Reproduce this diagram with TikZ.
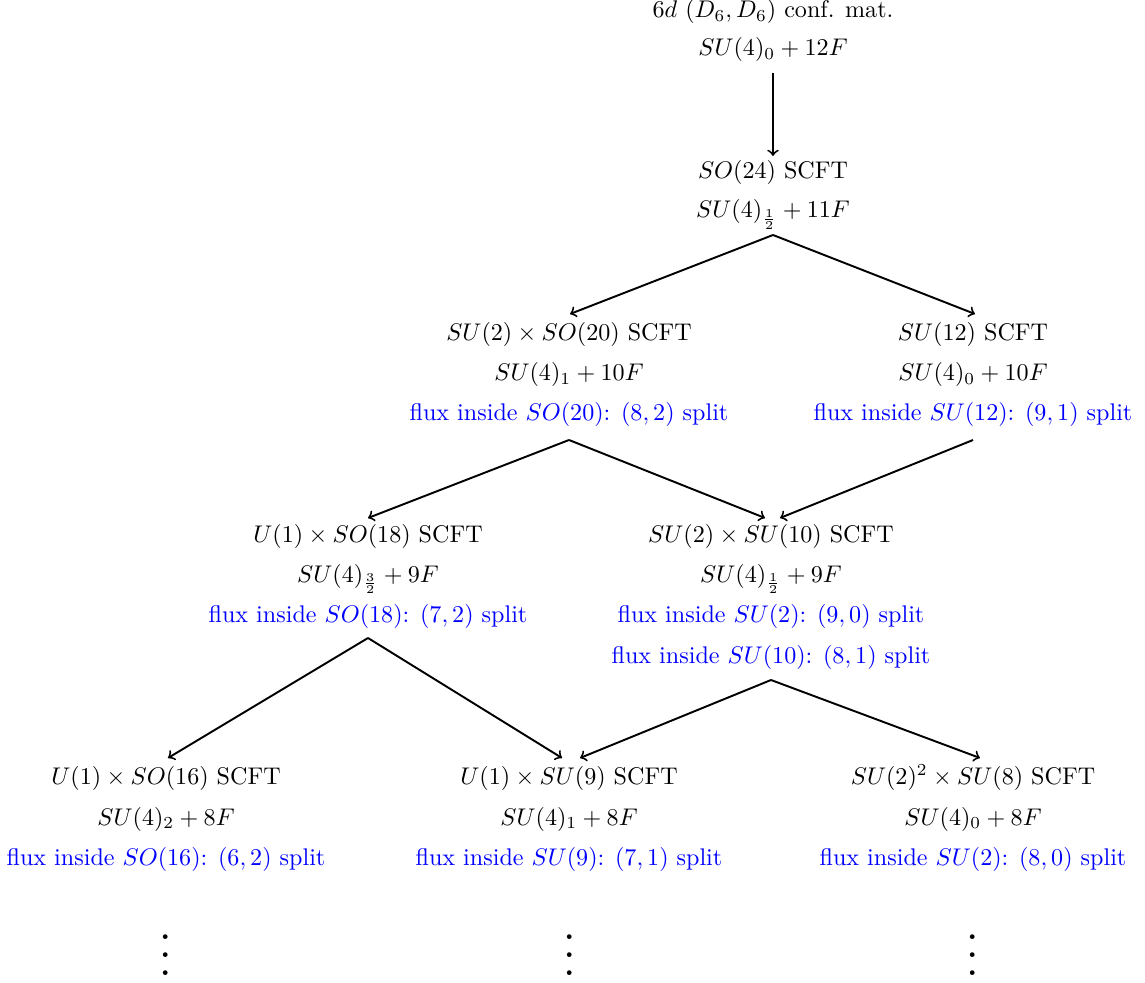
\documentclass[tikz,border=0pt]{standalone}
\usetikzlibrary{calc}
\tikzset{
  lbl/.style={anchor=base, inner sep=0pt, text=black},
  flux/.style={lbl, text=blue},
  arr/.style={->, thick},
  dotsnode/.style={anchor=base, inner sep=0pt}
}
\newcommand{\bigvdots}{\scalebox{1.85}{$\vdots$}}
\begin{document}
\begin{tikzpicture}[x=0.415pt, y=-0.415pt]
\useasboundingbox (0,0) rectangle (1145,983);
% row 0
\node[lbl] (t0a) at (773,18) {$6d$ $(D_6,D_6)$ conf. mat.};
\node[lbl] (t0b) at (773,56) {$SU(4)_0+12F$};
% row 1
\node[lbl] (t1a) at (773,179) {$SO(24)$ SCFT};
\node[lbl] (t1b) at (773,218) {$SU(4)_{\frac12}+11F$};
% row 2 left
\node[lbl] (r2La) at (569,341) {$SU(2)\times SO(20)$ SCFT};
\node[lbl] (r2Lb) at (569,381) {$SU(4)_1+10F$};
\node[flux] (r2Lc) at (569,421) {flux inside $SO(20)$: $(8,2)$ split};
% row 2 right
\node[lbl] (r2Ra) at (973,341) {$SU(12)$ SCFT};
\node[lbl] (r2Rb) at (973,381) {$SU(4)_0+10F$};
\node[flux] (r2Rc) at (973,421) {flux inside $SU(12)$: $(9,1)$ split};
% row 3 left
\node[lbl] (r3La) at (368,543) {$U(1)\times SO(18)$ SCFT};
\node[lbl] (r3Lb) at (368,582) {$SU(4)_{\frac32}+9F$};
\node[flux] (r3Lc) at (368,622) {flux inside $SO(18)$: $(7,2)$ split};
% row 3 right
\node[lbl] (r3Ra) at (771,543) {$SU(2)\times SU(10)$ SCFT};
\node[lbl] (r3Rb) at (771,582) {$SU(4)_{\frac12}+9F$};
\node[flux] (r3Rc) at (771,622) {flux inside $SU(2)$: $(9,0)$ split};
\node[flux] (r3Rd) at (771,663) {flux inside $SU(10)$: $(8,1)$ split};
% row 4
\node[lbl] (r4La) at (166,784) {$U(1)\times SO(16)$ SCFT};
\node[lbl] (r4Lb) at (166,825) {$SU(4)_2+8F$};
\node[flux] (r4Lc) at (166,865) {flux inside $SO(16)$: $(6,2)$ split};
\node[lbl] (r4Ma) at (569,784) {$U(1)\times SU(9)$ SCFT};
\node[lbl] (r4Mb) at (569,825) {$SU(4)_1+8F$};
\node[flux] (r4Mc) at (569,865) {flux inside $SU(9)$: $(7,1)$ split};
\node[lbl] (r4Ra) at (973,784) {$SU(2)^2\times SU(8)$ SCFT};
\node[lbl] (r4Rb) at (973,825) {$SU(4)_0+8F$};
\node[flux] (r4Rc) at (973,865) {flux inside $SU(2)$: $(8,0)$ split};
% dots
\node[dotsnode] (v1) at (166,975) {\bigvdots};
\node[dotsnode] (v2) at (570,975) {\bigvdots};
\node[dotsnode] (v3) at (973,975) {\bigvdots};
% arrows
\draw[arr] ($(t0b.base)+(0,17)$) -- ($(t1a.base)+(0,-23)$);
\draw[arr] ($(t1b.base)+(0,17)$) -- ($(r2La.base)+(1,-27)$);
\draw[arr] ($(t1b.base)+(0,17)$) -- ($(r2Ra.base)+(2,-27)$);
\draw[arr] ($(r2Lc.base)+(0,19)$) -- ($(r3La.base)+(0,-25)$);
\draw[arr] ($(r2Lc.base)+(0,19)$) -- ($(r3Ra.base)+(-6,-25)$);
\draw[arr] ($(r2Rc.base)+(0,19)$) -- ($(r3Ra.base)+(9,-25)$);
\draw[arr] ($(r3Lc.base)+(0,16)$) -- ($(r4La.base)+(2,-26)$);
\draw[arr] ($(r3Lc.base)+(0,16)$) -- ($(r4Ma.base)+(-7,-26)$);
\draw[arr] ($(r3Rd.base)+(0,17)$) -- ($(r4Ma.base)+(11,-26)$);
\draw[arr] ($(r3Rd.base)+(0,17)$) -- ($(r4Ra.base)+(7,-26)$);
\end{tikzpicture}
\end{document}
